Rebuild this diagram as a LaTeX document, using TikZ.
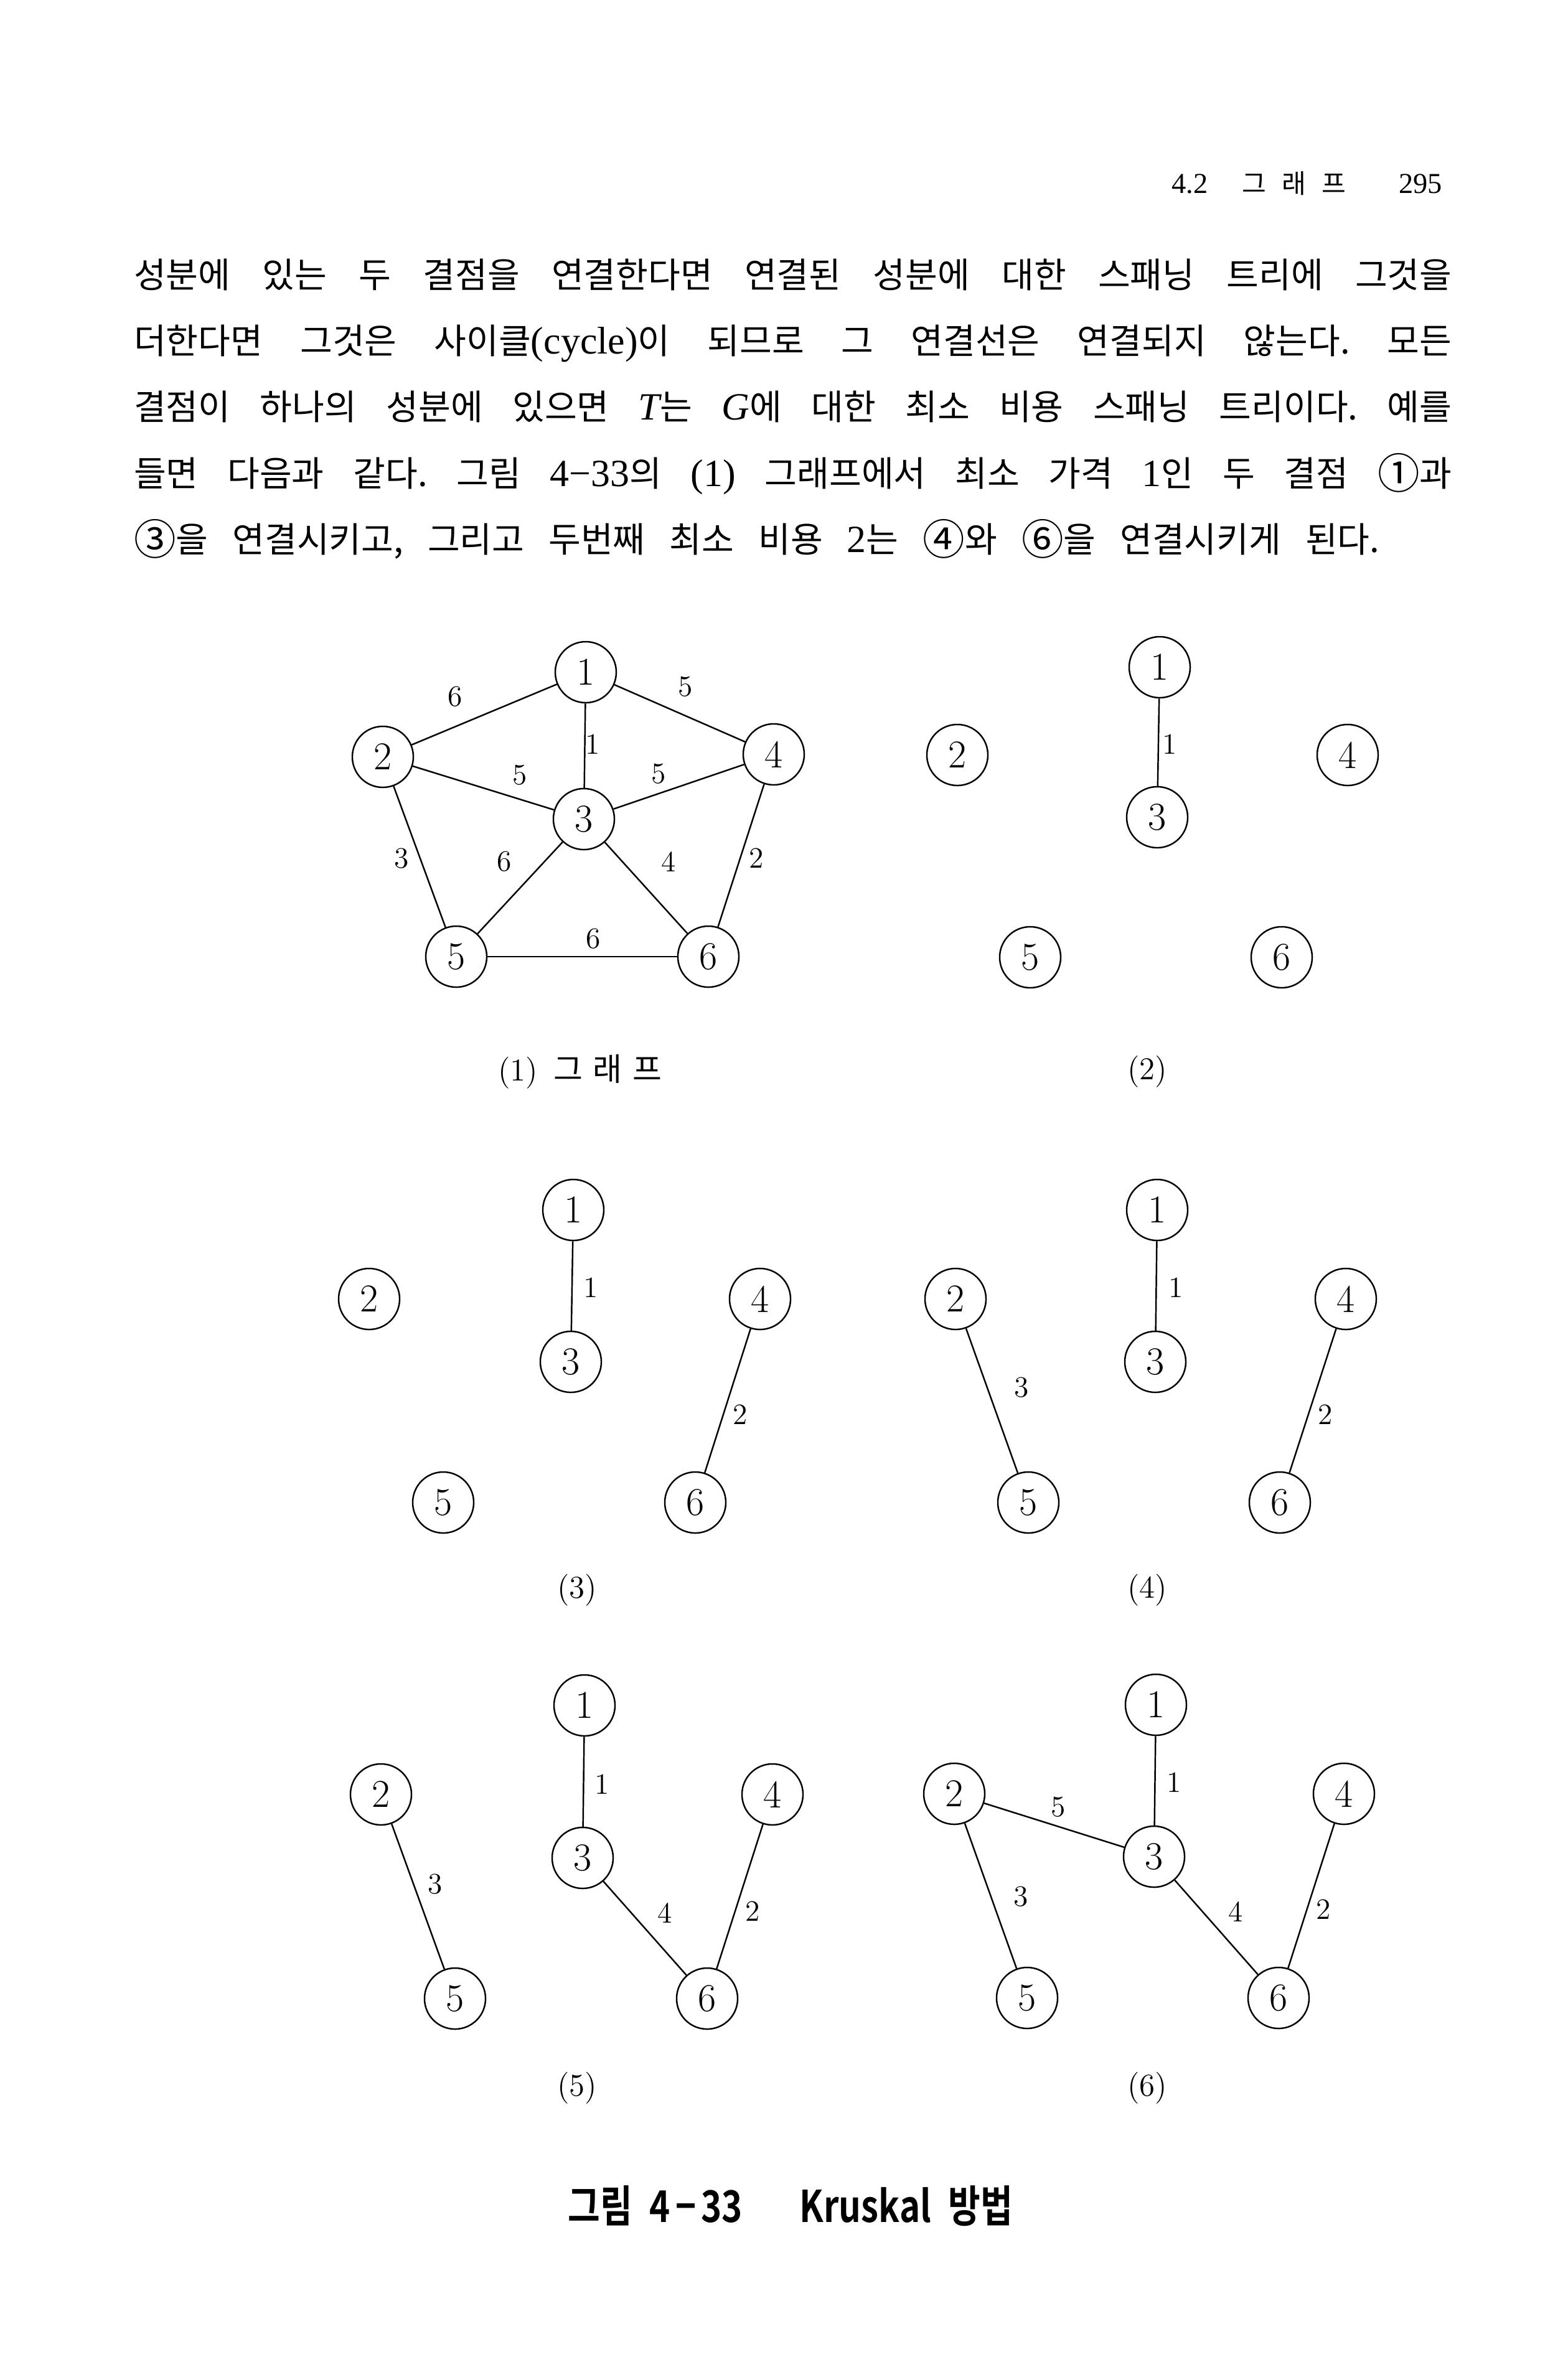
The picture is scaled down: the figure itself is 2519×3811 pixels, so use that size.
\documentclass[tikz,border=0pt]{standalone}
\usepackage{fontspec}
\newfontfamily\kr{Noto Sans CJK KR}[BoldFont={Noto Sans CJK KR Bold}]
\newfontfamily\lat{Liberation Serif}[Scale=1.1]
\usetikzlibrary{positioning}
\frenchspacing
\newcommand\cnum[1]{\raisebox{-0.08em}{\scalebox{1.2}{#1}}}

\begin{document}
\begin{tikzpicture}[
    x=0.01cm, y=-0.01cm,
    line width=0.7pt,
    vtx/.style={circle, draw, minimum size=0.98cm, inner sep=0pt,
                font=\fontsize{18}{18}\selectfont},
    wt/.style={inner sep=0pt, font=\fontsize{13.5}{14}\selectfont},
    sub/.style={inner sep=0pt, font=\fontsize{14.5}{16}\selectfont},
    txt/.style={anchor=base west, inner sep=0pt,
                font=\fontsize{16}{19}\selectfont\kr}]
    \useasboundingbox (0,0) rectangle (2519,3811);
    \fill[white] (0,0) rectangle (2519,3811);

    \node[anchor=base east, inner sep=0pt, font=\fontsize{12}{14}\selectfont] (hdr) at (2318,310)
      {{\lat 4.2}\hspace{0.55cm}{\kr 그\hspace{0.25cm}래\hspace{0.25cm}프}\hspace{0.85cm}{\lat 295}};

    \node[txt] (l1) at (214,462) {\makebox[21.16cm][s]{성분에 있는 두 결점을 연결한다면 연결된 성분에 대한 스패닝 트리에 그것을}};
    \node[txt] (l2) at (214,568) {\makebox[21.16cm][s]{더한다면 그것은 사이클{\lat(cycle)}이 되므로 그 연결선은 연결되지 않는다. 모든}};
    \node[txt] (l3) at (214,674) {\makebox[21.16cm][s]{결점이 하나의 성분에 있으면 {\lat\itshape T}는 {\lat\itshape G}에 대한 최소 비용 스패닝 트리이다. 예를}};
    \node[txt] (l4) at (214,781) {\makebox[21.16cm][s]{들면 다음과 같다. 그림 {\lat 4−33}의 {\lat(1)} 그래프에서 최소 가격 {\lat 1}인 두 결점 \cnum{①}과}};
    \node[txt] (l5) at (214,887) {\makebox[20.0cm][s]{\cnum{③}을 연결시키고, 그리고 두번째 최소 비용 {\lat 2}는 \cnum{④}와 \cnum{⑥}을 연결시키게 된다.}};

    \node[vtx] (a1) at (941,1080) {1};
    \node[vtx] (a2) at (615,1216) {2};
    \node[vtx] (a3) at (938,1316) {3};
    \node[vtx] (a4) at (1243,1212) {4};
    \node[vtx] (a5) at (733,1537) {5};
    \node[vtx] (a6) at (1138,1537) {6};
    \draw (a1) -- (a2) node[wt] at (731,1119) {6};
    \draw (a1) -- (a4) node[wt] at (1101,1103) {5};
    \draw (a1) -- (a3) node[wt] at (952,1196) {1};
    \draw (a2) -- (a3) node[wt] at (835,1245) {5};
    \draw (a3) -- (a4) node[wt] at (1058,1243) {5};
    \draw (a2) -- (a5) node[wt] at (645,1379) {3};
    \draw (a3) -- (a5) node[wt] at (810,1384) {6};
    \draw (a3) -- (a6) node[wt] at (1074,1384) {4};
    \draw (a4) -- (a6) node[wt] at (1215,1379) {2};
    \draw (a5) -- (a6) node[wt] at (953,1508) {6};
    \node[sub] (s1) at (932,1722) {(1)\hspace{0.25cm}{\kr 그\hspace{0.17cm}래\hspace{0.17cm}프}};

    \node[vtx] (b1) at (1863,1072) {1};
    \node[vtx] (b2) at (1538,1213) {2};
    \node[vtx] (b3) at (1859,1313) {3};
    \node[vtx] (b4) at (2165,1213) {4};
    \node[vtx] (b5) at (1655,1538) {5};
    \node[vtx] (b6) at (2059,1538) {6};
    \draw (b1) -- (b3) node[wt] at (1879,1196) {1};
    \node[sub] (s2) at (1843,1722) {(2)};

    \node[vtx] (c1) at (921,1944) {1};
    \node[vtx] (c2) at (593,2087) {2};
    \node[vtx] (c3) at (917,2188) {3};
    \node[vtx] (c4) at (1221,2087) {4};
    \node[vtx] (c5) at (712,2414) {5};
    \node[vtx] (c6) at (1117,2414) {6};
    \draw (c1) -- (c3) node[wt] at (949,2069) {1};
    \draw (c4) -- (c6) node[wt] at (1189,2273) {2};
    \node[sub] (s3) at (927,2555) {(3)};

    \node[vtx] (d1) at (1859,1944) {1};
    \node[vtx] (d2) at (1535,2087) {2};
    \node[vtx] (d3) at (1856,2188) {3};
    \node[vtx] (d4) at (2162,2087) {4};
    \node[vtx] (d5) at (1652,2414) {5};
    \node[vtx] (d6) at (2056,2414) {6};
    \draw (d1) -- (d3) node[wt] at (1889,2069) {1};
    \draw (d2) -- (d5) node[wt] at (1641,2229) {3};
    \draw (d4) -- (d6) node[wt] at (2129,2273) {2};
    \node[sub] (s4) at (1843,2555) {(4)};

    \node[vtx] (e1) at (939,2740) {1};
    \node[vtx] (e2) at (612,2883) {2};
    \node[vtx] (e3) at (936,2985) {3};
    \node[vtx] (e4) at (1241,2883) {4};
    \node[vtx] (e5) at (731,3211) {5};
    \node[vtx] (e6) at (1136,3211) {6};
    \draw (e1) -- (e3) node[wt] at (967,2867) {1};
    \draw (e2) -- (e5) node[wt] at (699,3027) {3};
    \draw (e3) -- (e6) node[wt] at (1068,3073) {4};
    \draw (e4) -- (e6) node[wt] at (1209,3071) {2};
    \node[sub] (s5) at (927,3355) {(5)};

    \node[vtx] (f1) at (1857,2739) {1};
    \node[vtx] (f2) at (1533,2882) {2};
    \node[vtx] (f3) at (1854,2983) {3};
    \node[vtx] (f4) at (2159,2882) {4};
    \node[vtx] (f5) at (1650,3210) {5};
    \node[vtx] (f6) at (2054,3210) {6};
    \draw (f1) -- (f3) node[wt] at (1886,2864) {1};
    \draw (f2) -- (f3) node[wt] at (1700,2903) {5};
    \draw (f2) -- (f5) node[wt] at (1640,3047) {3};
    \draw (f3) -- (f6) node[wt] at (1985,3071) {4};
    \draw (f4) -- (f6) node[wt] at (2126,3068) {2};
    \node[sub] (s6) at (1843,3355) {(6)};

    \node[anchor=base, inner sep=0pt, font=\fontsize{20}{24}\selectfont\kr\bfseries] (title) at (1270,3570)
      {\scalebox{0.8}[1]{그림\hspace{0.35cm}4\hspace{0.1cm}−\hspace{0.1cm}33\hspace{1.15cm}Kruskal\hspace{0.35cm}방법}};
\end{tikzpicture}
\end{document}
